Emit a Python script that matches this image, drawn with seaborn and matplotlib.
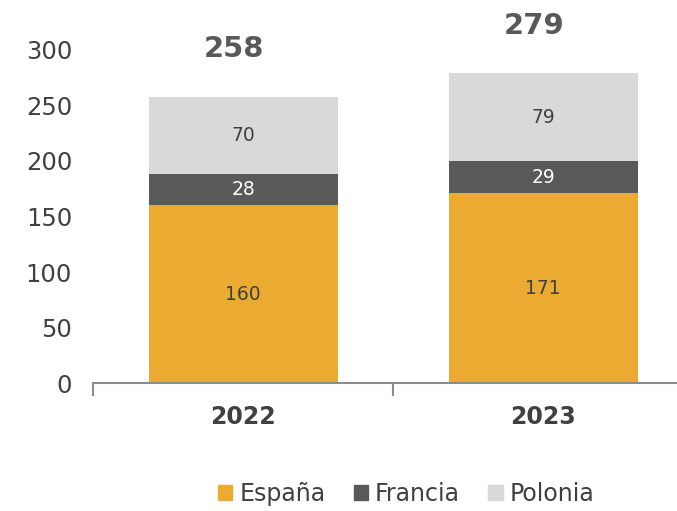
import pandas as pd
import numpy as np
import matplotlib.pyplot as plt
import seaborn as sns
from matplotlib.patches import Patch

years = ['2022', '2023']
espana = [160, 171]
francia = [28, 29]
polonia = [70, 79]
totals = [258, 279]

colors = {'España': '#EBAA32', 'Francia': '#595959', 'Polonia': '#D9D9D9'}
text_col = '#404040'

sns.set_style('white')
plt.rcParams['font.family'] = ['DejaVu Sans']

fig = plt.figure(figsize=(6.77, 5.11), dpi=100)
ax = fig.add_axes([93 / 677, 128 / 511, 600 / 677, 333 / 511])

df = pd.DataFrame({'Año': years, 'España': espana, 'Francia': francia, 'Polonia': polonia})
bottom = np.zeros(len(years))
for serie in ['España', 'Francia', 'Polonia']:
    sns.barplot(data=df, x='Año', y=serie, color=colors[serie], width=0.63,
                bottom=bottom, ax=ax, saturation=1, linewidth=0)
    for i, v in enumerate(df[serie]):
        tc = 'white' if serie == 'Francia' else text_col
        ax.text(i, bottom[i] + v / 2, str(v), ha='center', va='center',
                fontsize=13.5, color=tc)
    bottom = bottom + df[serie].values

for i, t in enumerate(totals):
    ax.text(i - 0.03, t + 43, str(t), ha='center', va='center', fontsize=21,
            fontweight='bold', color='#595959', clip_on=False)

ax.set_xlim(-0.5, 1.5)
ax.set_ylim(0, 300)
ax.set_yticks(range(0, 301, 50))
ax.set_xlabel('')
ax.set_ylabel('')
for s in ['left', 'top', 'right']:
    ax.spines[s].set_visible(False)
ax.spines['bottom'].set_color('#8C8C8C')
ax.spines['bottom'].set_linewidth(1.5)
ax.tick_params(axis='y', length=0, labelsize=17.5, labelcolor=text_col, pad=15)
ax.tick_params(axis='x', which='major', length=0, labelsize=17, labelcolor=text_col, pad=16)
for lab in ax.get_xticklabels():
    lab.set_fontweight('bold')
ax.set_xticks([-0.5, 0.5, 1.5], minor=True)
ax.tick_params(axis='x', which='minor', bottom=True, direction='out', length=9,
               width=1.5, color='#8C8C8C')

handles = [Patch(color=colors[k], label=k) for k in colors]
fig.legend(handles=handles, loc='center', bbox_to_anchor=(0.6, 0.033), ncol=3,
           frameon=False, fontsize=17, handlelength=0.6, handleheight=0.6,
           handletextpad=0.3, columnspacing=1.2, labelcolor=text_col)

plt.savefig('out.png', dpi=100)
